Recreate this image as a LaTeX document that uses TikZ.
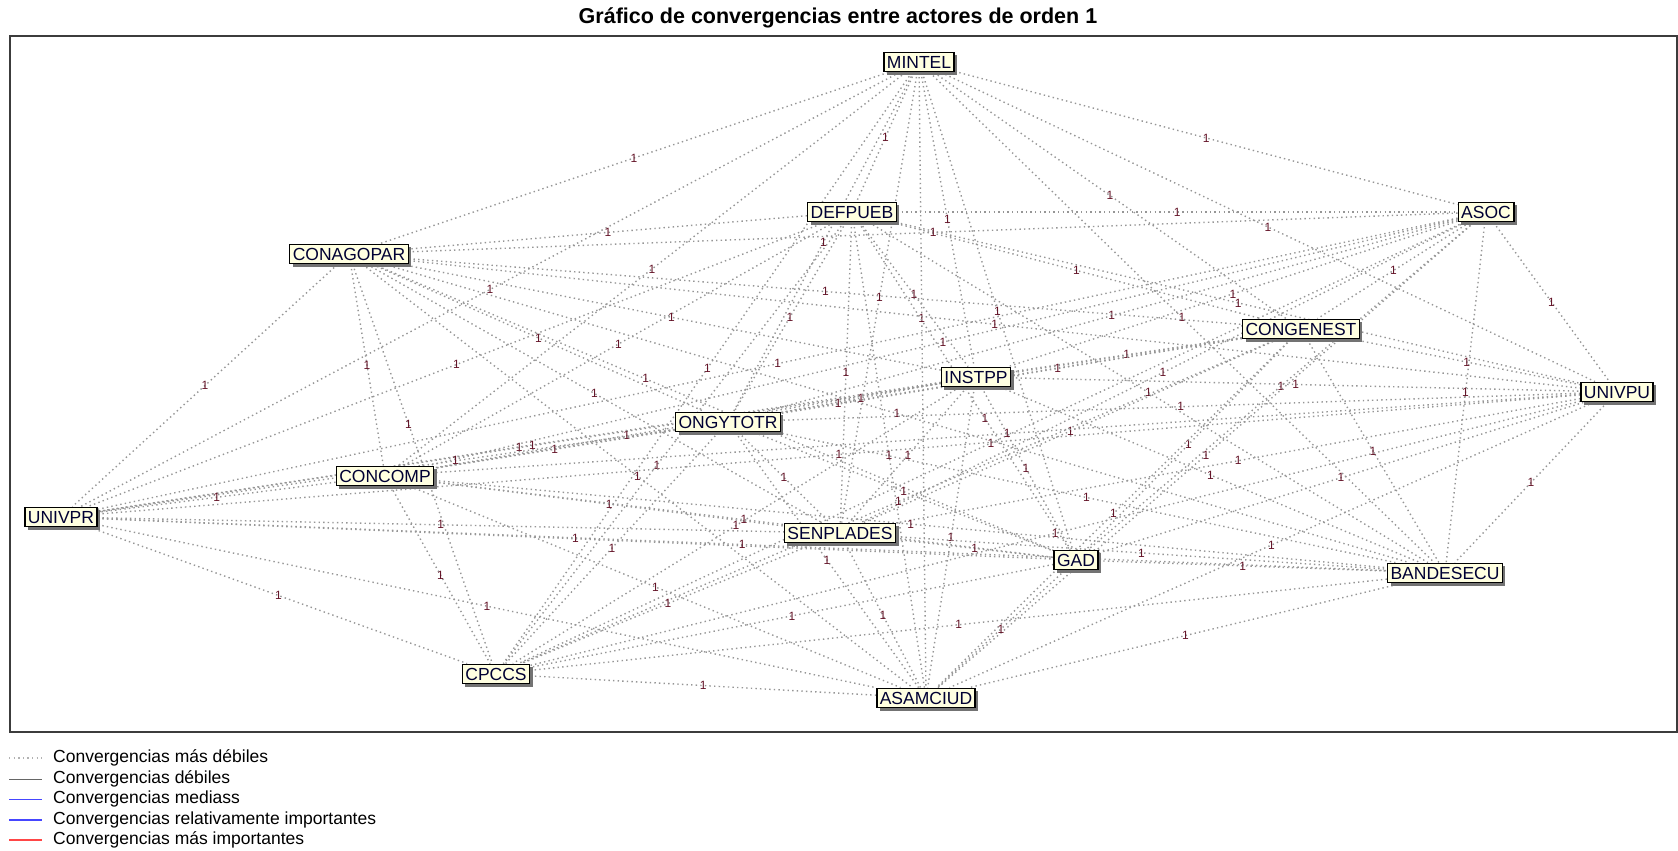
\documentclass[tikz,border=0pt]{standalone}
\usepackage{fontspec}
\setmainfont{Liberation Sans}
\usepackage{tikz}
\usetikzlibrary{backgrounds,shadows}
\usepackage{xcolor}
\definecolor{boxfill}  {RGB}{255,255,225}
\definecolor{convgray} {RGB}{150,150,150}
\definecolor{lblred}   {RGB}{100, 20, 40}
\definecolor{frmgray}  {RGB}{ 60, 60, 60}
\definecolor{legblue}  {RGB}{ 70, 70,255}
\definecolor{legred}   {RGB}{255, 70, 70}

%% label positions moved off the actor boxes
\expandafter\def\csname lpCONGENESTUNIVPR\endcsname{.62}
\expandafter\def\csname lpINSTPPCONCOMP\endcsname{.62}
\expandafter\def\csname lpCONAGOPARGAD\endcsname{.4}
\expandafter\def\csname lpONGYTOTRUNIVPR\endcsname{.38}
\expandafter\def\csname lpDEFPUEBGAD\endcsname{.6}
\expandafter\def\csname lpMINTELASAMCIUD\endcsname{.4}
\expandafter\def\csname lpCONGENESTONGYTOTR\endcsname{.4}
\expandafter\def\csname lpCONAGOPARCPCCS\endcsname{.4}
\expandafter\def\csname lpDEFPUEBCPCCS\endcsname{.55}

\begin{document}
\begin{tikzpicture}[
  x=1pt,y=-1pt,
  actor/.style={draw=black,line width=1.4pt,fill=boxfill,
                font=\fontsize{17.5}{20}\selectfont,text=black!80!blue,
                inner xsep=3pt,inner ysep=3.5pt,text height=12.5pt,text depth=0pt,
                general shadow={fill=black!55,shadow xshift=3pt,shadow yshift=-3pt}},
  conv/.style={draw=convgray,line width=1.4pt,dash pattern=on 1.4pt off 3.2pt},
  lbl/.style={font=\fontsize{12}{13}\selectfont,text=lblred,inner sep=0pt},
  legtxt/.style={anchor=west,font=\fontsize{17.5}{20}\selectfont,inner sep=0pt},
]
\useasboundingbox (0,0) rectangle (1678,851);

%% Title and frame
\node[font=\bfseries\fontsize{21.5}{24}\selectfont] (title) at (838,18)
  {Gráfico de convergencias entre actores de orden 1};
\draw[frmgray,line width=2pt] (10,36) rectangle (1677,732);

%% Actors of order 1
\node[actor] (MINTEL)    at (919,62)   {MINTEL};
\node[actor] (DEFPUEB)   at (852,212)  {DEFPUEB};
\node[actor] (ASOC)      at (1486,212) {ASOC};
\node[actor] (CONAGOPAR) at (349,254)  {CONAGOPAR};
\node[actor] (CONGENEST) at (1301,329) {CONGENEST};
\node[actor] (INSTPP)    at (976,377)  {INSTPP};
\node[actor] (UNIVPU)    at (1617,392) {UNIVPU};
\node[actor] (ONGYTOTR)  at (728,422)  {ONGYTOTR};
\node[actor] (CONCOMP)   at (385,476)  {CONCOMP};
\node[actor] (UNIVPR)    at (61,517)   {UNIVPR};
\node[actor] (SENPLADES) at (840,533)  {SENPLADES};
\node[actor] (GAD)       at (1076,560) {GAD};
\node[actor] (BANDESECU) at (1445,573) {BANDESECU};
\node[actor] (CPCCS)     at (496,674)  {CPCCS};
\node[actor] (ASAMCIUD)  at (926,698)  {ASAMCIUD};

%% Convergences (every pair, weight 1)
\begin{scope}[on background layer]
\foreach \a [count=\i] in {MINTEL,DEFPUEB,ASOC,CONAGOPAR,CONGENEST,INSTPP,UNIVPU,
    ONGYTOTR,CONCOMP,UNIVPR,SENPLADES,GAD,BANDESECU,CPCCS,ASAMCIUD}{
  \foreach \b [count=\j] in {MINTEL,DEFPUEB,ASOC,CONAGOPAR,CONGENEST,INSTPP,UNIVPU,
      ONGYTOTR,CONCOMP,UNIVPR,SENPLADES,GAD,BANDESECU,CPCCS,ASAMCIUD}{
    \ifnum\j>\i
      \ifcsname lp\a\b\endcsname
        \edef\lpos{\csname lp\a\b\endcsname}%
      \else
        \def\lpos{.5}%
      \fi
      \draw[conv] (\a) -- (\b) node[lbl,pos=\lpos] {1};
    \fi
  }
}
\end{scope}

%% Legend
\node[legtxt] (leg1) at (53,758) {Convergencias más débiles};
\node[legtxt] (leg2) at (53,779) {Convergencias débiles};
\node[legtxt] (leg3) at (53,799) {Convergencias mediass};
\node[legtxt] (leg4) at (53,820) {Convergencias relativamente importantes};
\node[legtxt] (leg5) at (53,840) {Convergencias más importantes};

\draw[conv,draw=black!30] ([xshift=-44pt]leg1.west) -- ([xshift=-11pt]leg1.west);
\draw[black!60,line width=1pt] ([xshift=-44pt]leg2.west) -- ([xshift=-11pt]leg2.west);
\draw[legblue,line width=1pt] ([xshift=-44pt]leg3.west) -- ([xshift=-11pt]leg3.west);
\draw[legblue,line width=2.5pt] ([xshift=-44pt]leg4.west) -- ([xshift=-11pt]leg4.west);
\draw[legred,line width=2.5pt] ([xshift=-44pt]leg5.west) -- ([xshift=-11pt]leg5.west);

\end{tikzpicture}
\end{document}
